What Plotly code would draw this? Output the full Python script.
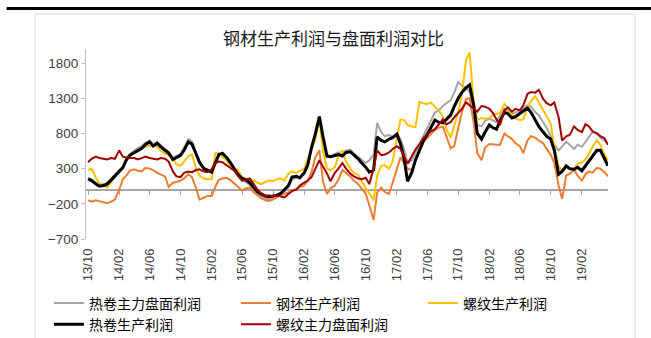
import pandas as pd
import plotly.graph_objects as go

# semi-monthly sampling dates (1st and 15th of each month)
dates = pd.date_range("2013-10-01", periods=136, freq="SMS")

tick_dates = ["2013-10-01", "2014-02-01", "2014-06-01", "2014-10-01", "2015-02-01",
              "2015-06-01", "2015-10-01", "2016-02-01", "2016-06-01", "2016-10-01",
              "2017-02-01", "2017-06-01", "2017-10-01", "2018-02-01", "2018-06-01",
              "2018-10-01", "2019-02-01"]
tick_labels = ["13/10", "14/02", "14/06", "14/10", "15/02", "15/06", "15/10", "16/02",
               "16/06", "16/10", "17/02", "17/06", "17/10", "18/02", "18/06", "18/10", "19/02"]

y_ticks = [-700, -200, 300, 800, 1300, 1800]

# 热卷主力盘面利润
hrc_futures = [170, 150, 100, 70, 80, 100, 160, 220, 280, 330,
               440, 510, 560, 590, 620, 670, 700, 650, 680, 630,
               580, 540, 460, 480, 510, 600, 720, 690, 550, 400,
               310, 290, 260, 370, 480, 500, 450, 370, 280, 200,
               130, 110, 70, 10, -60, -100, -120, -140, -110, -100,
               -70, -30, 40, 150, 170, 160, 230, 330, 580, 760,
               1000, 730, 460, 470, 510, 530, 520, 560, 570, 520,
               470, 420, 380, 420, 500, 950, 820, 760, 780, 750,
               800, 720, 580, 380, 420, 520, 650, 760, 880, 980,
               1100, 1120, 1190, 1230, 1270, 1380, 1530, 1480, 1450, 1390,
               1150, 920, 900, 980, 1010, 990, 960, 1060, 1150, 1120,
               1080, 1100, 1130, 1160, 1200, 1180, 1100, 1060, 960, 880,
               760, 640, 560, 620, 680, 640, 580, 640, 610, 680,
               760, 820, 800, 740, 700, 640]

# 钢坯生产利润
billet = [-150, -170, -150, -160, -180, -190, -170, -140, 0, 150,
          200, 270, 290, 270, 260, 310, 300, 280, 240, 220,
          190, 40, 100, 110, 130, 160, 220, 180, 30, -140,
          -110, -90, -90, 40, 140, 160, 170, 140, 90, 40,
          -10, 20, 30, -30, -80, -120, -150, -160, -140, -110,
          -70, -60, -40, -10, 10, 40, 60, 130, 250, 450,
          560, 120, -60, 20, 60, 140, 280, 240, 190, 130,
          80, 20, -60, -220, -430, -40, 30, -30, -60, 100,
          300, 460, 380, 300, 280, 410, 570, 680, 740, 790,
          850, 880, 900, 760, 590, 620, 900, 1100, 1290, 1300,
          950, 520, 420, 600, 650, 640, 640, 640, 800, 760,
          720, 660, 620, 520, 700, 760, 740, 700, 660, 580,
          500, 380, 60, -130, 200, 230, 280, 200, 130, 220,
          260, 240, 310, 300, 250, 190]

# 螺纹生产利润
rebar = [280, 300, 170, 90, 70, 30, 110, 200, 260, 330,
         440, 510, 520, 540, 590, 610, 620, 650, 600, 560,
         510, 500, 470, 360, 340, 400, 480, 500, 310, 200,
         160, 150, 150, 520, 520, 470, 420, 340, 310, 280,
         180, 160, 150, 130, 110, 80, 110, 130, 120, 150,
         160, 130, 230, 260, 240, 270, 300, 430, 560, 700,
         1000, 560, 300, 280, 320, 480, 560, 400, 300, 240,
         210, 120, 20, -50, -150, 200, 340, 350, 300, 400,
         700, 1000, 990, 920, 900, 890, 1250, 1230, 1220, 1240,
         1180, 1130, 1040, 860, 740, 920, 1100, 1350, 1850, 1950,
         1250, 990, 1020, 1010, 1020, 1070, 1080, 1090, 1220, 1150,
         1080, 1010, 990, 1000, 1180, 1260, 1330, 1240, 1120, 1040,
         940, 620, 340, 250, 310, 300, 290, 370, 390, 430,
         510, 610, 700, 640, 500, 420]

# 热卷生产利润
hrc = [150, 130, 80, 50, 60, 80, 140, 200, 260, 310,
       420, 490, 530, 560, 590, 640, 680, 620, 660, 610,
       560, 520, 430, 460, 490, 560, 680, 650, 520, 390,
       300, 280, 250, 380, 500, 520, 460, 390, 300, 220,
       160, 140, 100, 40, -30, -60, -90, -100, -90, -80,
       -50, 0, 60, 180, 190, 170, 240, 350, 600, 780,
       1040, 760, 480, 470, 490, 500, 480, 530, 540, 500,
       440, 380, 320, 250, 280, 750, 700, 680, 720, 740,
       790, 650, 450, 120, 250, 420, 560, 680, 790, 880,
       990, 960, 950, 1000, 1060, 1180, 1300, 1380, 1450, 1490,
       1200, 800, 720, 820, 920, 880, 860, 980, 1100, 1080,
       1020, 1040, 1080, 1120, 1160, 1100, 980, 900, 820, 760,
       720, 560, 220, 260, 340, 300, 290, 320, 270, 340,
       420, 490, 560, 560, 430, 340]

# 螺纹主力盘面利润
rebar_futures = [390, 440, 470, 450, 440, 430, 450, 440, 560, 470,
                 460, 450, 450, 430, 450, 470, 450, 440, 430, 450,
                 440, 400, 260, 190, 180, 240, 260, 250, 280, 290,
                 260, 250, 290, 380, 400, 390, 350, 310, 270, 200,
                 130, 140, 160, 90, 0, -50, -90, -80, -100, -80,
                 -100, -110, -60, -20, 0, 60, 100, 130, 180, 300,
                 420, 330, 230, 120, 240, 300, 380, 300, 230, 190,
                 160, 150, 170, 80, 300, 560, 490, 500, 530, 580,
                 620, 580, 470, 370, 480, 570, 650, 730, 790, 830,
                 860, 920, 1000, 930, 960, 1030, 1090, 1150, 1240, 1200,
                 1160, 1110, 1190, 1180, 1150, 1090, 1000, 920, 1130, 1170,
                 1110, 1150, 1130, 1200, 1360, 1390, 1380, 1420, 1290, 1230,
                 1200, 1240, 1030, 700, 760, 780, 900, 850, 820, 930,
                 900, 830, 800, 760, 730, 640]

series_names = ["热卷主力盘面利润", "钢坯生产利润", "螺纹生产利润", "热卷生产利润", "螺纹主力盘面利润"]
series_values = [hrc_futures, billet, rebar, hrc, rebar_futures]
series_colors = ["#A5A5A5", "#ED7D31", "#FFC000", "#000000", "#A00000"]
series_widths = [2, 2, 2, 3, 2]

x_range = ["2013-09-23", "2019-05-15"]

fig = go.Figure()
# empty trace so the zero-crossing axis is drawn
fig.add_trace(go.Scatter(x=[], y=[], xaxis="x2", showlegend=False, hoverinfo="skip"))
for name, vals, col, w in zip(series_names, series_values, series_colors, series_widths):
    fig.add_trace(go.Scatter(x=dates, y=vals, name=name, mode="lines",
                             line=dict(color=col, width=w)))

fig.update_layout(
    width=651, height=338,
    margin=dict(l=86, r=43, t=49, b=99, autoexpand=False),
    paper_bgcolor="white", plot_bgcolor="white",
    showlegend=True,
    legend=dict(orientation="h", x=-0.071, xanchor="left", y=-0.255, yanchor="top",
                entrywidth=142, entrywidthmode="pixels", itemwidth=30,
                font=dict(family="Noto Sans CJK SC", size=14, color="#000000"),
                bgcolor="rgba(0,0,0,0)"),
    xaxis=dict(type="date", range=x_range, tickvals=tick_dates, ticktext=tick_labels,
               tickangle=-90, showline=False, showgrid=False, zeroline=False,
               ticks="", ticklabelstandoff=6,
               tickfont=dict(family="Liberation Sans", size=13, color="#404040")),
    xaxis2=dict(type="date", range=x_range, overlaying="x", anchor="free", position=0.2593,
                showline=True, linecolor="#A6A6A6", linewidth=2, ticks="outside", ticklen=4,
                tickcolor="#A6A6A6", tickwidth=1, tickvals=tick_dates, showticklabels=False,
                showgrid=False, zeroline=False, layer="below traces"),
    yaxis=dict(range=[-700, 2000], tickvals=y_ticks, showline=True, linecolor="#BFBFBF",
               linewidth=1, ticks="outside", ticklen=4, tickcolor="#BFBFBF",
               showgrid=False, zeroline=False,
               tickfont=dict(family="Liberation Sans", size=13.5, color="#404040")),
    shapes=[
        dict(type="line", xref="paper", yref="paper", x0=-0.152, x1=1.085, y0=1.213, y1=1.213,
             line=dict(color="black", width=3)),
        dict(type="rect", xref="paper", yref="paper", x0=-0.0977, x1=1.0517, y0=-0.53, y1=1.184,
             line=dict(color="#D9D9D9", width=1)),
    ],
    annotations=[
        dict(text="钢材生产利润与盘面利润对比", xref="paper", yref="paper", x=0.475, y=1.058,
             xanchor="center", yanchor="middle", showarrow=False,
             font=dict(family="Noto Sans CJK SC", size=17, color="#1a1a1a")),
    ],
)

fig.write_html("out.html")
